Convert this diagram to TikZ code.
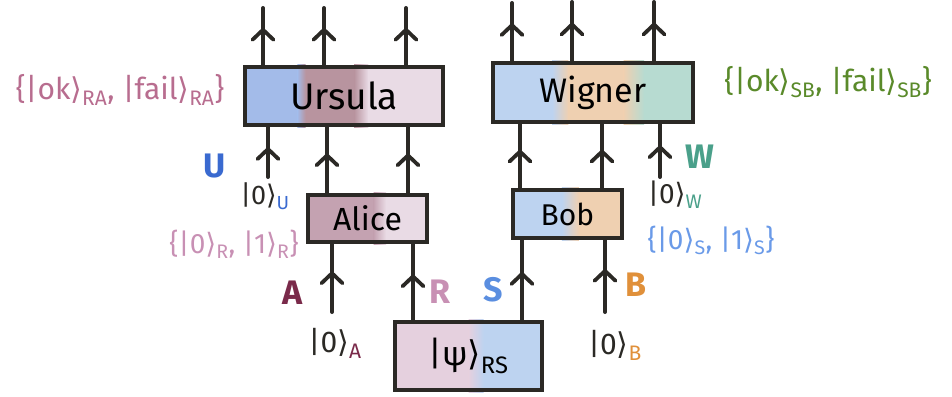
\documentclass[tikz,border=0pt]{standalone}
\usepackage{fontspec}
\setmainfont{Fira Sans}
\newfontfamily\kf{DejaVu Sans}
\usetikzlibrary{arrows.meta,decorations.markings,calc,backgrounds}
\definecolor{ink}{HTML}{2B2925}
\definecolor{ublue}{HTML}{A3BBE9}
\definecolor{umauve}{HTML}{B8949F}
\definecolor{lpink}{HTML}{E9DBE5}
\definecolor{amauve}{HTML}{C4A2B1}
\definecolor{lblue}{HTML}{BDD3F0}
\definecolor{lorange}{HTML}{EFD0B1}
\definecolor{lteal}{HTML}{B7DBD1}
\definecolor{ppink}{HTML}{E5D0DE}
\definecolor{cRA}{HTML}{B86D8F}
\definecolor{cSB}{HTML}{5A8A2A}
\definecolor{cA}{HTML}{7A2A4A}
\definecolor{cR}{HTML}{C890B4}
\definecolor{cS}{HTML}{5A8EE0}
\definecolor{cB}{HTML}{E0903A}
\definecolor{cW}{HTML}{4AA08A}
\definecolor{cU}{HTML}{3A6AD0}
\definecolor{cSset}{HTML}{6A9AE8}
\newcommand\rk{{\kf\char"27E9}}
\newcommand\segfill[4]{\fill[#2] ($(#1.south west)!#3!(#1.south east)$) rectangle ($(#1.north west)!#4!(#1.north east)$);}
\newcommand\segshade[5]{\shade[left color=#2,right color=#3] ($(#1.south west)!#4!(#1.south east)$) rectangle ($(#1.north west)!#5!(#1.north east)$);}
\newcommand\fsz[1]{\fontsize{#1}{#1}\selectfont}
\tikzset{
  box/.style={draw=ink, line width=4.5pt, inner sep=0pt},
  wire/.style={draw=ink, line width=4pt, line cap=round,
    postaction={decorate},
    decoration={markings, mark=at position #1 with {\arrow{Straight Barb[length=10pt,width=21pt,line width=3.8pt,round]}}}},
  wire/.default=0.6,
  lab/.style={inner sep=0pt},
  letter/.style={inner sep=0pt, font=\fsz{34}\bfseries}
}
\begin{document}
\begin{tikzpicture}[x=1pt,y=-1pt]
\useasboundingbox (0,0) rectangle (952,396);
% boxes
\node[box, minimum width=198pt, minimum height=58pt] (ursula) at (344,96) {};
\node[box, minimum width=200pt, minimum height=59pt] (wigner) at (593,92.5) {};
\node[box, minimum width=119pt, minimum height=47pt] (alice) at (367.5,218.5) {};
\node[box, minimum width=109pt, minimum height=48pt] (bob) at (567.5,214) {};
\node[box, minimum width=147pt, minimum height=68pt] (psi) at (468.5,356) {};
\begin{scope}[on background layer]
  \segfill{ursula}{ublue}{0}{0.27}
  \segshade{ursula}{ublue}{umauve}{0.27}{0.31}
  \segfill{ursula}{umauve}{0.31}{0.55}
  \segshade{ursula}{umauve}{lpink}{0.55}{0.62}
  \segfill{ursula}{lpink}{0.62}{1}
  \segfill{wigner}{lblue}{0}{0.3}
  \segshade{wigner}{lblue}{lorange}{0.3}{0.38}
  \segfill{wigner}{lorange}{0.38}{0.65}
  \segshade{wigner}{lorange}{lteal}{0.65}{0.75}
  \segfill{wigner}{lteal}{0.75}{1}
  \segfill{alice}{amauve}{0}{0.55}
  \segshade{alice}{amauve}{lpink}{0.55}{0.65}
  \segfill{alice}{lpink}{0.65}{1}
  \segfill{bob}{lblue}{0}{0.45}
  \segshade{bob}{lblue}{lorange}{0.45}{0.6}
  \segfill{bob}{lorange}{0.6}{1}
  \segfill{psi}{ppink}{0}{0.5}
  \segshade{psi}{ppink}{lblue}{0.5}{0.6}
  \segfill{psi}{lblue}{0.6}{1}
\end{scope}
\node[font=\fsz{37}] (tu) at (ursula) {Ursula};
\node[font=\fsz{34}] (tw) at (wigner) {Wigner};
\node[font=\fsz{32}] (ta) at (alice) {Alice};
\node[font=\fsz{30}] (tb) at (bob) {Bob};
\node[font=\fsz{34}] (tp) at (psi) {|ψ\rk\textsubscript{RS}};
% free ends
\coordinate (t1) at (263,8);
\coordinate (t2) at (324,8);
\coordinate (t3) at (406,8);
\coordinate (t4) at (512,3);
\coordinate (t5) at (572,2);
\coordinate (t6) at (654,2);
\coordinate (uin) at (268,177);
\coordinate (ain) at (332,312);
\coordinate (bin) at (605,312);
\coordinate (win) at (660,177);
\coordinate (xa1) at (327,0);
\coordinate (xa2) at (408,0);
\coordinate (xr) at (413,0);
\coordinate (xb1) at (520,0);
\coordinate (xb2) at (602,0);
\coordinate (xs) at (522,0);
% output wires
\foreach \t in {t1,t2,t3} \draw[wire=0.65] (\t |- ursula.north) -- (\t);
\foreach \t in {t4,t5,t6} \draw[wire=0.65] (\t |- wigner.north) -- (\t);
% middle wires
\draw[wire] (uin) -- (uin |- ursula.south);
\draw[wire] (xa1 |- alice.north) -- (xa1 |- ursula.south);
\draw[wire] (xa2 |- alice.north) -- (xa2 |- ursula.south);
\draw[wire] (xb1 |- bob.north) -- (xb1 |- wigner.south);
\draw[wire] (xb2 |- bob.north) -- (xb2 |- wigner.south);
\draw[wire] (win) -- (win |- wigner.south);
% lower wires
\draw[wire] (ain) -- (ain |- alice.south);
\draw[wire] (xr |- psi.north) -- (xr |- alice.south);
\draw[wire] (xs |- psi.north) -- (xs |- bob.south);
\draw[wire] (bin) -- (bin |- bob.south);
% labels
\node[lab, font=\fsz{30}, text=cRA] (lra) at (120,90) {\{|ok\rk\textsubscript{RA}, |fail\rk\textsubscript{RA}\}};
\node[lab, font=\fsz{30}, text=cSB] (lsb) at (828,82) {\{|ok\rk\textsubscript{SB}, |fail\rk\textsubscript{SB}\}};
\node[letter, text=cU] (lu) at (215,166) {U};
\node[lab, font=\fsz{27}, text=ink] (l0u) at (265,196) {|0\rk\textsubscript{\color{cU}U}};
\node[lab, font=\fsz{28}, text=cR] (lr01) at (234,244) {\{|0\rk\textsubscript{R}, |1\rk\textsubscript{R}\}};
\node[letter, text=cA] (la) at (293,293) {A};
\node[lab, font=\fsz{30}, text=ink] (l0a) at (335,343) {|0\rk\textsubscript{\color{cA}A}};
\node[letter, text=cR] (lr) at (440,292) {R};
\node[letter, text=cS] (ls) at (493,290) {S};
\node[letter, text=cB] (lb) at (636,285) {B};
\node[lab, font=\fsz{30}, text=ink] (l0b) at (615,345) {|0\rk\textsubscript{\color{cB}B}};
\node[letter, text=cW] (lw) at (700,157) {W};
\node[lab, font=\fsz{28}, text=ink] (l0w) at (675,195) {|0\rk\textsubscript{\color{cW}W}};
\node[lab, font=\fsz{28}, text=cSset] (ls01) at (711,240) {\{|0\rk\textsubscript{S}, |1\rk\textsubscript{S}\}};
\end{tikzpicture}
\end{document}
